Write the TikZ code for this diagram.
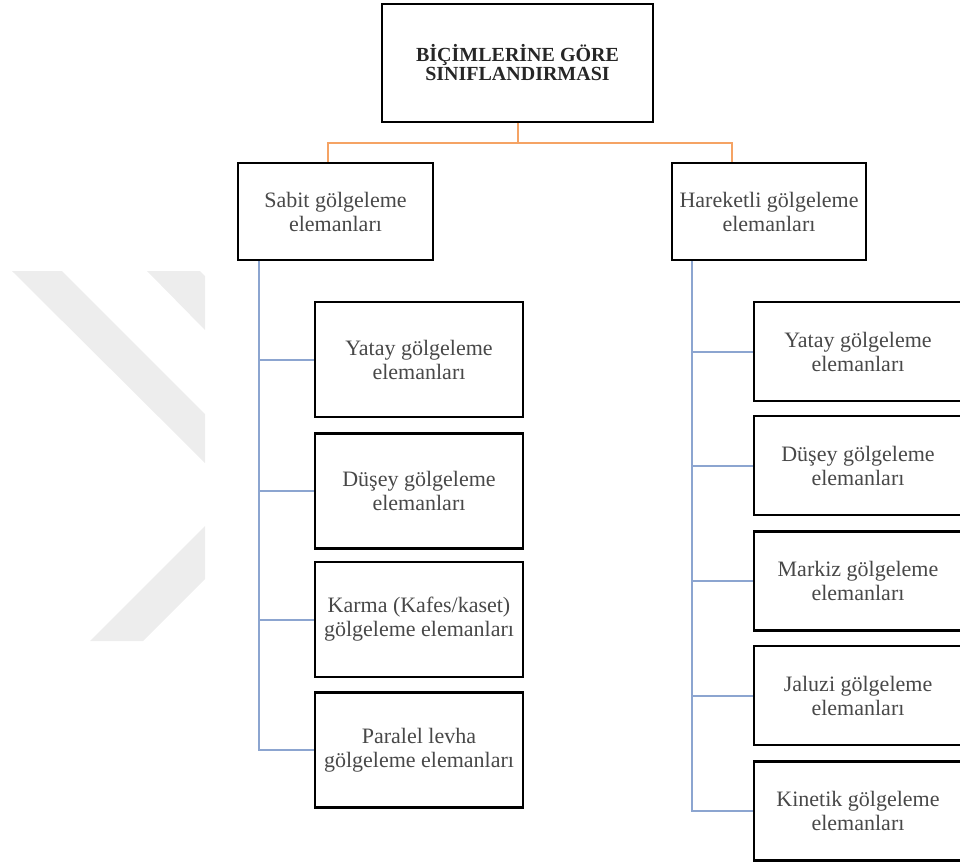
\documentclass[tikz,border=0pt]{standalone}
\usepackage{fontspec}
\setmainfont{Liberation Serif}
\definecolor{turuncu}{RGB}{245,163,100}
\definecolor{mavi}{RGB}{140,165,208}
\definecolor{yazi}{RGB}{72,72,72}
\begin{document}
\begin{tikzpicture}[x=1pt,y=-1pt,
  kutu/.style={draw=black,line width=2.6pt,align=center,inner sep=0pt,text=yazi,
    font=\fontsize{22}{24}\selectfont},
  solkutu/.style={kutu,minimum width=208pt,minimum height=115pt},
  sagkutu/.style={kutu,minimum width=208pt,minimum height=99pt},
  turuncucizgi/.style={turuncu,line width=2pt},
  mavicizgi/.style={mavi,line width=2pt}]
  \useasboundingbox (0,0) rectangle (960,863);
  % soluk filigran
  \fill[black!7] (12,271) -- (62,271) -- (205,414) -- (205,463) -- cycle;
  \fill[black!7] (147,271) -- (200,271) -- (205,276) -- (205,330) -- cycle;
  \fill[black!7] (90,641) -- (143,641) -- (205,579) -- (205,526) -- cycle;

  \node[kutu,text=black!85,font=\bfseries\fontsize{20}{19}\selectfont,
    minimum width=271pt,minimum height=118pt] (root) at (517.5,63) {BİÇİMLERİNE GÖRE\\SINIFLANDIRMASI};
  \node[kutu,minimum width=195pt,minimum height=97pt] (sabit) at (335.5,211.5) {Sabit gölgeleme\\elemanları};
  \node[kutu,minimum width=194pt,minimum height=97pt] (hareketli) at (769,211.5) {Hareketli gölgeleme\\elemanları};

  % sabit elemanlar
  \node[solkutu] (s1) at (419,359.5) {Yatay gölgeleme\\elemanları};
  \node[solkutu] (s2) at (419,491) {Düşey gölgeleme\\elemanları};
  \node[solkutu] (s3) at (419,619.5) {Karma (Kafes/kaset)\\gölgeleme elemanları};
  \node[solkutu] (s4) at (419,750) {Paralel levha\\gölgeleme elemanları};

  % hareketli elemanlar
  \node[sagkutu] (h1) at (858,351.5) {Yatay gölgeleme\\elemanları};
  \node[sagkutu] (h2) at (858,465.5) {Düşey gölgeleme\\elemanları};
  \node[sagkutu] (h3) at (858,581) {Markiz gölgeleme\\elemanları};
  \node[sagkutu] (h4) at (858,695.5) {Jaluzi gölgeleme\\elemanları};
  \node[sagkutu] (h5) at (858,811) {Kinetik gölgeleme\\elemanları};

  \coordinate (bus) at (517.5,143);
  \draw[turuncucizgi] (root.south) -- (bus);
  \draw[turuncucizgi] (bus) -| ([xshift=-7.5pt]sabit.north);
  \draw[turuncucizgi] (bus) -| ([xshift=-37pt]hareketli.north);

  \coordinate (sgovde) at ([xshift=-76.5pt]sabit.south);
  \draw[mavicizgi] (sgovde) |- (s4.west);
  \foreach \k in {s1,s2,s3}
    \draw[mavicizgi] (sgovde |- \k.west) -- (\k.west);
  \coordinate (hgovde) at ([xshift=-77pt]hareketli.south);
  \draw[mavicizgi] (hgovde) |- (h5.west);
  \foreach \k in {h1,h2,h3,h4}
    \draw[mavicizgi] (hgovde |- \k.west) -- (\k.west);
\end{tikzpicture}
\end{document}
